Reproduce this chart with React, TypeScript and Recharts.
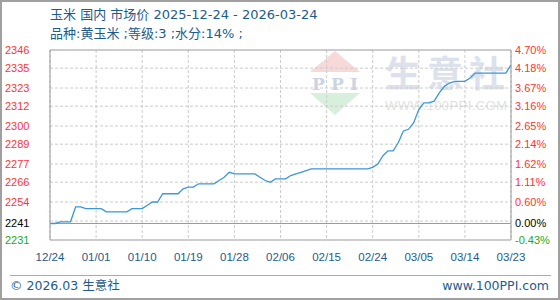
import { LineChart, Line, XAxis, YAxis, CartesianGrid, ReferenceLine } from 'recharts';

// daily price, 12/24 .. 03/23
const prices = [
  2241, 2241, 2242, 2242, 2242, 2251, 2251, 2250, 2250, 2250,
  2250, 2248, 2248, 2248, 2248, 2248, 2250, 2250, 2250, 2252,
  2254, 2254, 2259, 2259, 2259, 2259, 2262, 2263, 2263, 2265,
  2265, 2265, 2265, 2267, 2269, 2272, 2271, 2271, 2271, 2271,
  2271, 2269, 2267, 2266, 2268, 2268, 2268, 2270, 2271, 2272,
  2273, 2274, 2274, 2274, 2274, 2274, 2274, 2274, 2274, 2274,
  2274, 2274, 2274, 2275, 2277, 2282, 2285, 2285, 2290, 2297,
  2298, 2302, 2310, 2314, 2314, 2315, 2320, 2324, 2326, 2327,
  2327, 2327, 2329, 2332, 2332, 2332, 2332, 2332, 2332, 2332,
  2337,
];

const xTickIdx = [0, 9, 18, 27, 36, 45, 54, 63, 72, 81, 90];
const xTickLabels = ['12/24', '01/01', '01/10', '01/19', '01/28', '02/06', '02/15', '02/24', '03/05', '03/14', '03/23'];

const basePrice = 2241;
const priceTicks = [2231, 2241, 2254, 2266, 2277, 2289, 2300, 2312, 2323, 2335, 2346];
const pctLabels = ['-0.43%', '0.00%', '0.60%', '1.11%', '1.62%', '2.14%', '2.65%', '3.16%', '3.67%', '4.18%', '4.70%'];
const gridValues = [2242.5, 2254, 2266, 2277, 2289, 2300, 2312, 2323, 2335];

const data = prices.map((price, i) => ({ i, price }));

const BLUE = '#1c5b8c';
const tickFont = '"Liberation Sans", Arial, sans-serif';
const textFont = '"DejaVu Sans", "Noto Sans CJK SC", sans-serif';

const tickColor = (v: number) => (v > basePrice ? '#ff3333' : v < basePrice ? '#22aa22' : '#000000');

const LeftTick = ({ y, payload }: any) => (
  <text x={5} y={y} dy={4} fontSize={11} fontFamily={tickFont} fill={tickColor(payload.value)}>
    {payload.value}
  </text>
);

const RightTick = ({ y, payload }: any) => {
  const idx = priceTicks.indexOf(payload.value);
  return (
    <text x={515} y={y} dy={4} fontSize={11} fontFamily={tickFont} fill={tickColor(payload.value)}>
      {pctLabels[idx]}
    </text>
  );
};

const BottomTick = ({ x, payload }: any) => (
  <text x={x} y={261} textAnchor="middle" fontSize={11.5} fontFamily={tickFont} fill={BLUE}>
    {xTickLabels[xTickIdx.indexOf(payload.value)]}
  </text>
);

const Watermark = () => (
  <svg width={560} height={300} style={{ position: 'absolute', left: 0, top: 0 }}>
    <polygon points="310,72 335,51 360,72" fill="#f7d9d9" />
    <text x={335} y={90} textAnchor="middle" fontSize={17} fontWeight="bold" fontFamily="'DejaVu Serif', serif"
      fill="#ccd3e3" textLength={46}>PPI</text>
    <polygon points="310,93 360,93 335,115" fill="#d9efdd" />
    <text x={385} y={87} fontSize={36} fontWeight="bold" fontFamily="'Noto Sans CJK SC', sans-serif"
      fill="#dde1ec" textLength={120}>生意社</text>
    <text x={385} y={110} fontSize={13} fontFamily={tickFont} fill="#e2e2e2" textLength={122}>WWW.100PPI.COM</text>
  </svg>
);

export default function App() {
  return (
    <div style={{ position: 'absolute', left: 0, top: 0, width: 560, height: 300, background: '#fff', fontFamily: textFont }}>
      <Watermark />
      <LineChart width={560} height={300} data={data} margin={{ top: 50, right: 0, bottom: 0, left: 0 }}>
        <CartesianGrid stroke="#cccccc" strokeDasharray="3 2" horizontalValues={gridValues} />
        <XAxis
          dataKey="i"
          type="number"
          domain={[0, 90]}
          ticks={xTickIdx}
          height={60}
          tick={<BottomTick />}
          tickLine={false}
          axisLine={{ stroke: '#999999' }}
          interval={0}
        />
        <YAxis
          type="number"
          domain={[2231, 2346]}
          allowDataOverflow
          ticks={priceTicks}
          width={50}
          tick={<LeftTick />}
          tickLine={false}
          axisLine={{ stroke: '#999999' }}
          interval={0}
        />
        <YAxis
          yAxisId="right"
          orientation="right"
          type="number"
          domain={[2231, 2346]}
          allowDataOverflow
          ticks={priceTicks}
          width={49}
          tick={<RightTick />}
          tickLine={false}
          axisLine={{ stroke: '#999999' }}
          interval={0}
        />
        <ReferenceLine y={2346} stroke="#999999" />
        <ReferenceLine y={basePrice} stroke="#999999" />
        <Line
          type="linear"
          dataKey="price"
          stroke="#3b97d8"
          strokeWidth={1.3}
          dot={false}
          isAnimationActive={false}
        />
      </LineChart>

      <div style={{ position: 'absolute', left: 50, top: 6, fontSize: 13, lineHeight: '17px', color: BLUE, whiteSpace: 'nowrap' }}>
        玉米 国内 市场价 2025-12-24 - 2026-03-24
      </div>
      <div style={{ position: 'absolute', left: 50, top: 25, fontSize: 13, lineHeight: '17px', color: BLUE, whiteSpace: 'nowrap' }}>
        品种:黄玉米 ;等级:3 ;水分:14% ;
      </div>

      <div style={{ position: 'absolute', left: 10, top: 275, width: 541, height: 1, background: '#aaaaaa' }} />
      <div style={{ position: 'absolute', left: 10, top: 277, fontSize: 12.5, lineHeight: '17px', color: BLUE, whiteSpace: 'nowrap' }}>
        © 2026.03 生意社
      </div>
      <div style={{ position: 'absolute', right: 11, top: 277, fontSize: 12.5, lineHeight: '17px', color: BLUE, whiteSpace: 'nowrap' }}>
        www.100PPI.com
      </div>

      <div style={{ position: 'absolute', left: 0, top: 0, width: 560, height: 300, boxSizing: 'border-box', border: '2px solid #a0a0a0', pointerEvents: 'none' }} />
    </div>
  );
}
